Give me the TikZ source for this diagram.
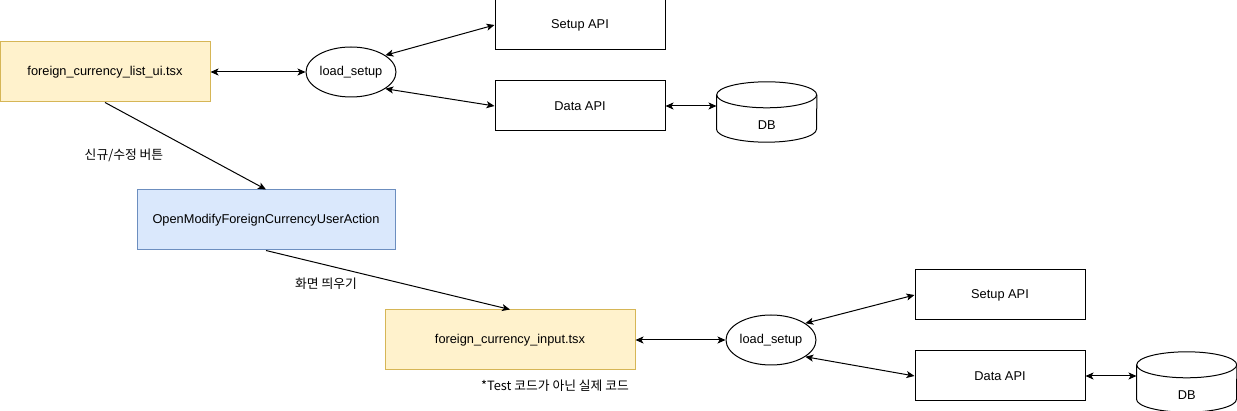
\documentclass[tikz,border=0pt]{standalone}
\usepackage{fontspec}
\setmainfont{Liberation Sans}
\newfontfamily\krfont{Noto Sans CJK KR}
\usepackage{tikz}
\usetikzlibrary{shapes.geometric,arrows.meta,positioning,calc}
\definecolor{fileyellow}{HTML}{FFF2CC}
\definecolor{fileedge}{HTML}{D6B656}
\definecolor{actionblue}{HTML}{DAE8FC}
\definecolor{actionedge}{HTML}{6C8EBF}

\begin{document}
\begin{tikzpicture}[
    x=1pt, y=-1pt,
    font=\fontsize{12.8}{15}\selectfont,
    box/.style={rectangle, draw, line width=1pt, minimum width=170pt, minimum height=50pt, inner sep=0pt},
    filebox/.style={box, fill=fileyellow, draw=fileedge, minimum width=210pt, minimum height=60pt},
    actionbox/.style={box, fill=actionblue, draw=actionedge, minimum width=258pt, minimum height=60pt},
    loader/.style={ellipse, draw, line width=1pt, minimum width=90pt, minimum height=50pt, inner sep=0pt},
    dbbody/.style={rectangle, minimum width=100pt, minimum height=34pt, inner sep=0pt},
    dbline/.style={line width=1pt},
    arrow/.style={<->, >={Stealth[length=8pt,width=7pt,inset=2pt]}, line width=1pt},
    flow/.style={->, >={Stealth[length=8pt,width=7pt,inset=2pt]}, line width=1pt},
    note/.style={font=\krfont\fontsize{12.8}{15}\selectfont}
]

\useasboundingbox (0,0) rectangle (1237,411);

\node[filebox] (list1) at (105,72) {foreign\_currency\_list\_ui.tsx};
\node[loader, right=95pt of list1] (load1) {load\_setup};
\node[box] (setup1) at (580,25) {Setup API};
\node[box, below=30pt of setup1] (data1) {Data API};
\node[dbbody, right=51pt of data1, yshift=-19pt] (db1) {DB};

\node[actionbox] (open1) at (266,220) {OpenModifyForeignCurrencyUserAction};

\node[filebox, minimum width=250pt] (input1) at (510,340) {foreign\_currency\_input.tsx};
\node[loader, right=90pt of input1] (load2) {load\_setup};
\node[box] (setup2) at (1000,295) {Setup API};
\node[box, below=30pt of setup2] (data2) {Data API};
\node[dbbody, right=51pt of data2, yshift=-19pt] (db2) {DB};

\node[note] (btn) at (124,155) {신규/수정 버튼};
\node[note] (popup) at (326,284) {화면 띄우기};
\node[note] (real) at (555,386) {*Test 코드가 아닌 실제 코드};

\foreach \cyl in {db1,db2}{
  \draw[dbline] ($(\cyl.north)+(0pt,13pt)$) ellipse [x radius=50pt, y radius=13pt];
  \draw[dbline] ($(\cyl.north west)+(0pt,13pt)$) -- ($(\cyl.south west)+(0pt,13pt)$)
    arc[start angle=180, end angle=360, x radius=50pt, y radius=13pt] -- ($(\cyl.north east)+(0pt,13pt)$);
}

\draw[arrow] (list1) -- (load1);
\draw[arrow] (load1.26) -- (setup1.west);
\draw[arrow] (load1.-26) -- (data1.west);
\draw[arrow] (data1.east) -- (data1.east -| db1.west);
\draw[flow] (list1.south) -- (open1.north);
\draw[flow] (open1.south) -- (input1.north);

\draw[arrow] (input1) -- (load2);
\draw[arrow] (load2.26) -- (setup2.west);
\draw[arrow] (load2.-26) -- (data2.west);
\draw[arrow] (data2.east) -- (data2.east -| db2.west);

\end{tikzpicture}
\end{document}
